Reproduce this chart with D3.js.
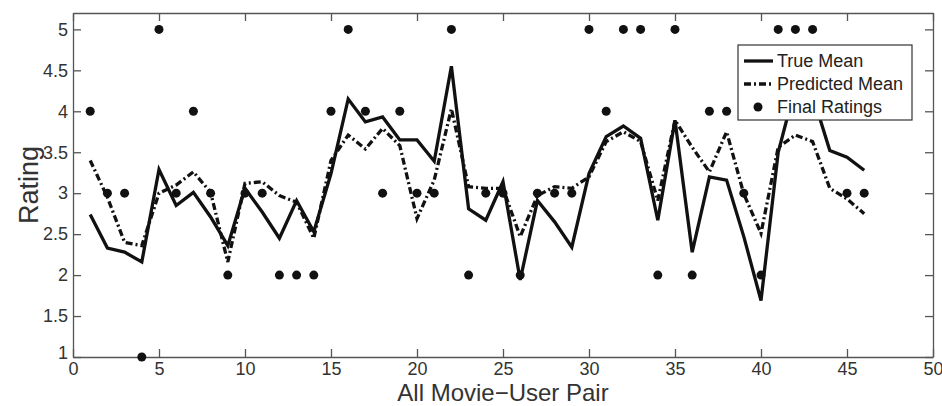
<!DOCTYPE html>
<html>
<head>
<meta charset="utf-8">
<script src="https://cdn.jsdelivr.net/npm/d3@7"></script>
<style>
  body { margin: 0; background: #fff; }
  svg { display: block; font-family: "Liberation Sans", Arial, sans-serif; }
</style>
</head>
<body>
<svg id="chart" width="942" height="406"></svg>
<script>
// pair index 1..46
var pairs = d3.range(1, 47);

var trueMean = [2.74, 2.33, 2.28, 2.16, 3.29, 2.85, 3.01, 2.71, 2.36, 3.06,
    2.77, 2.45, 2.91, 2.53, 3.24, 4.15, 3.87, 3.93, 3.65, 3.65,
    3.39, 4.55, 2.81, 2.67, 3.14, 1.94, 2.91, 2.65, 2.34, 3.24,
    3.69, 3.82, 3.67, 2.67, 3.89, 2.28, 3.20, 3.16, 2.47, 1.69,
    3.50, 4.30, 4.20, 3.52, 3.44, 3.28];

var predMean = [3.40, 2.95, 2.40, 2.36, 3.00, 3.10, 3.26, 3.01, 2.16, 3.12,
    3.14, 2.97, 2.89, 2.45, 3.40, 3.71, 3.54, 3.79, 3.58, 2.69,
    3.16, 4.03, 3.08, 3.06, 3.06, 2.47, 2.97, 3.08, 3.06, 3.20,
    3.63, 3.75, 3.63, 2.91, 3.89, 3.56, 3.26, 3.75, 2.99, 2.51,
    3.56, 3.71, 3.63, 3.06, 2.93, 2.75];

var finalRatings = [4, 3, 3, 1, 5, 3, 4, 3, 2, 3,
    3, 2, 2, 2, 4, 5, 4, 3, 4, 3,
    3, 5, 2, 3, 3, 2, 3, 3, 3, 5,
    4, 5, 5, 2, 5, 2, 4, 4, 3, 2,
    5, 5, 5, 4, 3, 3];

var xTicks = [0, 5, 10, 15, 20, 25, 30, 35, 40, 45, 50];
var yTicks = [1, 1.5, 2, 2.5, 3, 3.5, 4, 4.5, 5];
var legendNames = ["True Mean", "Predicted Mean", "Final Ratings"];

var margin = { top: 13, right: 9, bottom: 49, left: 73 },
    width = 942 - margin.left - margin.right,
    height = 406 - margin.top - margin.bottom;

var svg = d3.select('#chart');
var g = svg.append('g')
    .attr('transform', 'translate(' + margin.left + ',' + margin.top + ')');

var x = d3.scaleLinear().domain([0, 50]).range([0, width]);
var y = d3.scaleLinear().domain([1, 5.2]).range([height, 0]);

var axisColor = '#555',
    textColor = '#333';

function styleAxis(sel) {
    sel.selectAll('path, line').attr('stroke', axisColor).attr('stroke-width', 1.3);
    sel.selectAll('text').attr('fill', textColor).attr('font-size', 18)
        .attr('font-family', '"Liberation Sans", Arial, sans-serif');
}

// box axes, ticks pointing inward like matlab
g.append('g')
    .attr('transform', 'translate(0,' + height + ')')
    .call(d3.axisBottom(x).tickValues(xTicks).tickSizeInner(-8).tickSizeOuter(0).tickPadding(5))
    .call(styleAxis);
g.append('g')
    .call(d3.axisTop(x).tickValues(xTicks).tickSizeInner(-8).tickSizeOuter(0).tickFormat(''))
    .call(styleAxis);
g.append('g')
    .call(d3.axisLeft(y).tickValues(yTicks).tickSizeInner(-8).tickSizeOuter(0).tickPadding(5)
        .tickFormat(function(d) { return String(d); }))
    .call(styleAxis);
g.append('g')
    .attr('transform', 'translate(' + width + ',0)')
    .call(d3.axisRight(y).tickValues(yTicks).tickSizeInner(-8).tickSizeOuter(0).tickFormat(''))
    .call(styleAxis);

// the "1" label sits a bit higher than the others in the reference
g.selectAll('.tick text').filter(function(d) { return d === 1; }).attr('dy', '0.1em');

var line = function(vals) {
    return d3.line()
        .x(function(d, i) { return x(pairs[i]); })
        .y(function(d) { return y(d); })(vals);
};

g.append('path')
    .attr('d', line(trueMean))
    .attr('fill', 'none')
    .attr('stroke', '#111')
    .attr('stroke-width', 3.3)
    .attr('stroke-linejoin', 'miter');

g.append('path')
    .attr('d', line(predMean))
    .attr('fill', 'none')
    .attr('stroke', '#111')
    .attr('stroke-width', 3.3)
    .attr('stroke-dasharray', '7,3,2,3');

g.selectAll('circle.rating')
    .data(finalRatings)
    .enter()
    .append('circle')
    .attr('class', 'rating')
    .attr('cx', function(d, i) { return x(pairs[i]); })
    .attr('cy', function(d) { return y(d); })
    .attr('r', 4.5)
    .attr('fill', '#111');

// axis labels
svg.append('text')
    .attr('x', margin.left + width / 2)
    .attr('y', 400.5)
    .attr('text-anchor', 'middle')
    .attr('font-size', 24)
    .attr('fill', textColor)
    .text('All Movie\u2212User Pair');

svg.append('text')
    .attr('transform', 'translate(38,' + (margin.top + height / 2) + ') rotate(-90)')
    .attr('text-anchor', 'middle')
    .attr('font-size', 27)
    .attr('fill', textColor)
    .text('Rating');

// legend
var legend = svg.append('g').attr('transform', 'translate(738,45)');
legend.append('rect')
    .attr('width', 174)
    .attr('height', 75)
    .attr('fill', '#fff')
    .attr('stroke', '#333')
    .attr('stroke-width', 1.2);

var items = legend.selectAll('g.item')
    .data(legendNames)
    .enter()
    .append('g')
    .attr('class', 'item')
    .attr('transform', function(d, i) { return 'translate(0,' + (16 + i * 23) + ')'; });

items.each(function(d, i) {
    var it = d3.select(this);
    if (i === 0) {
        it.append('line').attr('x1', 6).attr('x2', 35).attr('y1', 0).attr('y2', 0)
            .attr('stroke', '#111').attr('stroke-width', 3.3);
    } else if (i === 1) {
        it.append('line').attr('x1', 6).attr('x2', 35).attr('y1', 0).attr('y2', 0)
            .attr('stroke', '#111').attr('stroke-width', 3.3).attr('stroke-dasharray', '7,3,2,3');
    } else {
        it.append('circle').attr('cx', 20).attr('cy', 0).attr('r', 4.5).attr('fill', '#111');
    }
    it.append('text')
        .attr('x', 39)
        .attr('y', 0)
        .attr('dy', '0.35em')
        .attr('font-size', 18)
        .attr('fill', '#222')
        .text(d);
});
</script>
</body>
</html>
